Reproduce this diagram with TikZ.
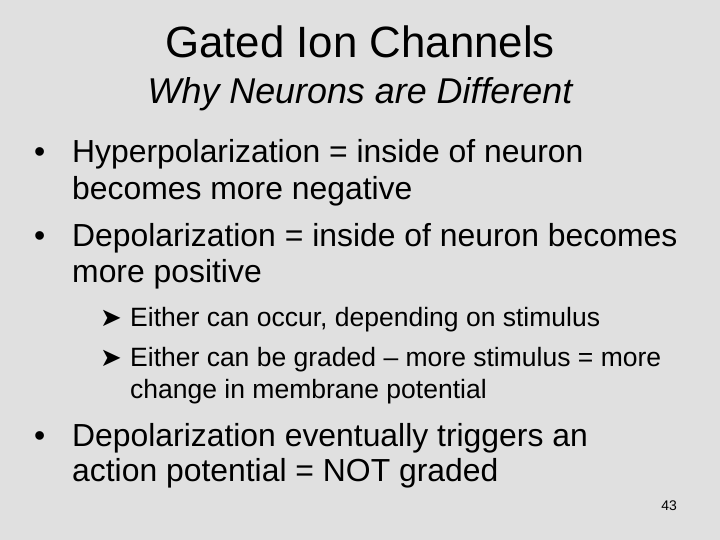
\documentclass[tikz,border=0pt]{standalone}
\usepackage{fontspec}
\setmainfont{Liberation Sans}
\newfontfamily\dv{DejaVu Sans}
\begin{document}
\begin{tikzpicture}[x=1bp,y=-1bp,
  tx/.style={anchor=base west,inner sep=0pt,text=black},
  big/.style={tx,font=\fontsize{32}{34}\selectfont},
  small/.style={tx,font=\fontsize{26.6}{28}\selectfont},
  arr/.style={tx,font=\dv\fontsize{26}{28}\selectfont}]
\fill[fill={rgb,255:red,224;green,224;blue,224}] (0,0) rectangle (720,540);
\useasboundingbox (0,0) rectangle (720,540);
\node[anchor=base,inner sep=0pt,font=\fontsize{44}{46}\selectfont] (t) at (360,58) {Gated Ion Channels};
\node[anchor=base,inner sep=0pt,font=\fontsize{36}{38}\selectfont\itshape] (s) at (360,104) {Why Neurons are Different};
\node[big] (b1) at (34,163) {•};
\node[big] (l1) at (72,163) {Hyperpolarization = inside of neuron};
\node[big] (l2) at (72,200) {becomes more negative};
\node[big] (b2) at (34,247) {•};
\node[big] (l3) at (72,247) {Depolarization = inside of neuron becomes};
\node[big] (l4) at (72,283) {more positive};
\node[arr] (a1) at (100,326) {➤};
\node[small] (l5) at (130,326) {Either can occur, depending on stimulus};
\node[arr] (a2) at (100,366) {➤};
\node[small] (l6) at (130,366) {Either can be graded – more stimulus = more};
\node[small] (l7) at (130,398) {change in membrane potential};
\node[big] (b3) at (34,446) {•};
\node[big] (l8) at (72,446) {Depolarization eventually triggers an};
\node[big] (l9) at (72,481) {action potential = NOT graded};
\node[tx,anchor=base,font=\fontsize{14}{16}\selectfont] (n) at (669,510) {43};
\end{tikzpicture}
\end{document}
